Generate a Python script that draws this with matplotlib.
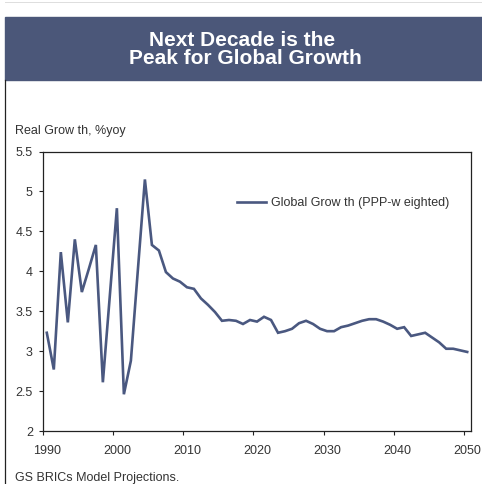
import matplotlib
matplotlib.use("Agg")
import matplotlib.pyplot as plt
import numpy as np
from matplotlib.lines import Line2D
from matplotlib.patches import Rectangle

# annual global growth, %yoy
years = list(range(1990, 2051))
growth = [3.23, 2.77, 4.24, 3.36, 4.40, 3.74, 4.03, 4.33, 2.61, 3.70,
          4.79, 2.46, 2.88, 4.02, 5.15, 4.33, 4.26, 3.99, 3.91, 3.87,
          3.80, 3.78, 3.66, 3.58, 3.49, 3.38, 3.39, 3.38, 3.34, 3.39,
          3.37, 3.43, 3.39, 3.23, 3.25, 3.28, 3.35, 3.38, 3.34, 3.28,
          3.25, 3.25, 3.30, 3.32, 3.35, 3.38, 3.40, 3.40, 3.37, 3.33,
          3.28, 3.30, 3.19, 3.21, 3.23, 3.17, 3.11, 3.03, 3.03, 3.01,
          2.99]
xtick_years = [1990, 2000, 2010, 2020, 2030, 2040, 2050]
yticks = [2, 2.5, 3, 3.5, 4, 4.5, 5, 5.5]
ytick_labels = ["2", "2.5", "3", "3.5", "4", "4.5", "5", "5.5"]

title_lines = ["Next Decade is the", "Peak for Global Growth"]
series_name = "Global Grow th (PPP-w eighted)"
ylabel = "Real Grow th, %yoy"
source = "GS BRICs Model Projections."

line_color = "#4a5880"
banner_color = "#4b5779"
text_color = "#333333"

plt.rcParams["font.family"] = ["Liberation Sans", "DejaVu Sans"]

fig = plt.figure(figsize=(4.82, 4.84), dpi=100)

# header banner
fig.patches.append(Rectangle((4.5 / 482, 1 - 80 / 484), 1, 63 / 484,
                             transform=fig.transFigure, color=banner_color, zorder=0))
fig.lines.append(Line2D([4.5 / 482, 4.5 / 482], [0, 1 - 80 / 484],
                        transform=fig.transFigure, color="#222222", lw=0.9))
fig.lines.append(Line2D([4.5 / 482, 1], [1 - 2 / 484, 1 - 2 / 484],
                        transform=fig.transFigure, color="#dddddd", lw=0.7))
fig.text(0.503, 1 - 46.5 / 484, title_lines[0], ha="center", va="baseline",
         color="white", fontsize=15, fontweight="bold")
fig.text(0.509, 1 - 64 / 484, title_lines[1], ha="center", va="baseline",
         color="white", fontsize=15, fontweight="bold")

ax = fig.add_axes([43.3 / 482, 1 - 431 / 484, 427.4 / 482, 279.5 / 484])
x = np.array(years) + 0.5
ax.plot(x, growth, color=line_color, lw=1.9, label=series_name,
        solid_joinstyle="miter")

ax.set_xlim(1990, 2051)
ax.set_ylim(2, 5.5)
ax.set_xticks(xtick_years)
ax.set_xticklabels([])
ax.set_xticks([y + 0.5 for y in xtick_years], minor=True)
ax.set_xticklabels([str(y) for y in xtick_years], minor=True)
ax.tick_params(axis="x", which="major", direction="out", length=3, width=0.8,
               color="#222222")
ax.tick_params(axis="x", which="minor", length=0, pad=10, labelsize=9,
               labelcolor=text_color)
ax.set_yticks(yticks)
ax.set_yticklabels(ytick_labels)
ax.tick_params(axis="y", direction="out", length=3, width=0.8, pad=4.5,
               labelsize=9, labelcolor=text_color, color="#222222")
for s in ax.spines.values():
    s.set_linewidth(0.9)
    s.set_color("#222222")

ax.legend(loc="center left", bbox_to_anchor=(0.453, 0.816), frameon=False,
          fontsize=9, handlelength=2.35, handletextpad=0.4, borderpad=0,
          borderaxespad=0, labelcolor=text_color)

fig.text(15 / 482, 1 - 134 / 484, ylabel, ha="left", va="baseline",
         fontsize=9, color=text_color)
fig.text(15 / 482, 1 - 481 / 484, source, ha="left", va="baseline",
         fontsize=9, color=text_color)

fig.savefig("out.png", dpi=100)
